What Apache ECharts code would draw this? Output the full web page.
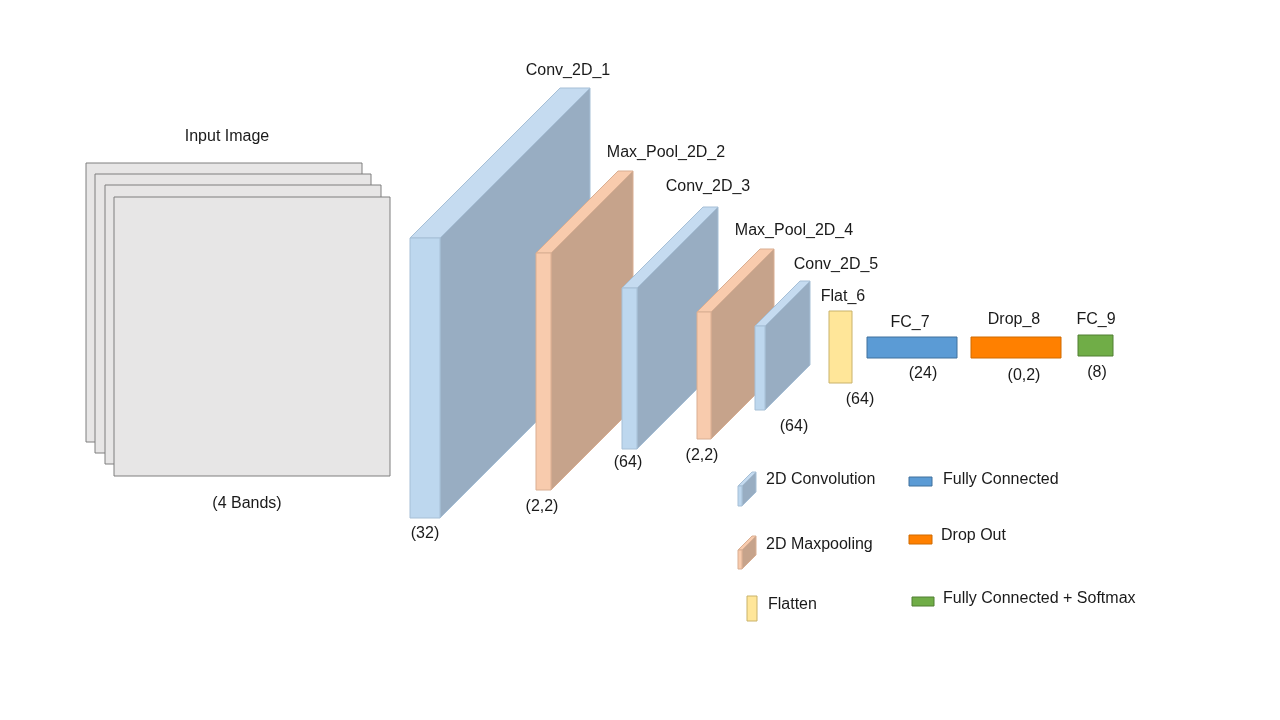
<!DOCTYPE html>
<html>
<head>
<meta charset="utf-8">
<script src="https://cdn.jsdelivr.net/npm/echarts@6/dist/echarts.min.js"></script>
<style>
  html, body { margin: 0; padding: 0; background: #fff; }
  #chart { width: 1280px; height: 720px; }
</style>
</head>
<body>
<div id="chart"></div>
<script>
// layer boxes: [x, yTop, width, height, depth, kind]
const inputSheets = [
  [86, 163, 276, 279, 0, 'input'],
  [95, 174, 276, 279, 0, 'input'],
  [105, 185, 276, 279, 0, 'input'],
  [114, 197, 276, 279, 0, 'input'],
];
const layerBoxes = [
  [410, 238, 30, 280, 150, 'conv'],
  [536, 253, 15, 237, 82, 'pool'],
  [622, 288, 15, 161, 81, 'conv'],
  [697, 312, 14, 127, 63, 'pool'],
  [755, 326, 10, 84, 45, 'conv'],
  [829, 311, 23, 72, 0, 'flat'],
  [867, 337, 90, 21, 0, 'fc'],
  [971, 337, 90, 21, 0, 'drop'],
  [1078, 335, 35, 21, 0, 'softmax'],
];
const legendBoxes = [
  [738, 486, 4, 20, 14, 'conv'],
  [738, 550, 4, 19, 14, 'pool'],
  [747, 596, 10, 25, 0, 'flat'],
  [909, 477, 23, 9, 0, 'fc'],
  [909, 535, 23, 9, 0, 'drop'],
  [912, 597, 22, 9, 0, 'softmax'],
];
// texts: [x, y, text]
const layerNames = [
  [227, 137, 'Input Image'], [568, 71, 'Conv_2D_1'], [666, 153, 'Max_Pool_2D_2'],
  [708, 187, 'Conv_2D_3'], [794, 231, 'Max_Pool_2D_4'], [836, 265, 'Conv_2D_5'],
  [843, 297, 'Flat_6'], [910, 323, 'FC_7'], [1014, 320, 'Drop_8'], [1096, 320, 'FC_9'],
];
const layerSizes = [
  [247, 504, '(4 Bands)'], [425, 534, '(32)'], [542, 507, '(2,2)'], [628, 463, '(64)'],
  [702, 456, '(2,2)'], [794, 427, '(64)'], [860, 400, '(64)'], [923, 374, '(24)'],
  [1024, 376, '(0,2)'], [1097, 373, '(8)'],
];
const legendTexts = [
  [766, 480, '2D Convolution'], [766, 545, '2D Maxpooling'], [768, 605, 'Flatten'],
  [943, 480, 'Fully Connected'], [941, 536, 'Drop Out'], [943, 599, 'Fully Connected + Softmax'],
];

const palette = {
  input: { front: '#e7e6e6', stroke: '#7f7f7f' },
  conv: { front: '#bdd7ee', side: '#98adc2', top: '#c5dbf0', stroke: '#a6bfd6' },
  pool: { front: '#f8cbad', side: '#c6a38b', top: '#f8cbad', stroke: '#d9ae92' },
  flat: { front: '#ffe699', stroke: '#c9b26a' },
  fc: { front: '#5b9bd5', stroke: '#41719c' },
  drop: { front: '#ff8000', stroke: '#d06a00' },
  softmax: { front: '#70ad47', stroke: '#507e32' },
};

function renderBox(params, api) {
  const x = api.value(0), y = api.value(1), w = api.value(2), h = api.value(3), d = api.value(4);
  const c = palette[api.value(5)];
  const p = (a, b) => api.coord([a, b]);
  const children = [];
  if (d > 0) {
    children.push({
      type: 'polygon',
      shape: { points: [p(x + w, y), p(x + w + d, y - d), p(x + w + d, y + h - d), p(x + w, y + h)] },
      style: { fill: c.side, stroke: c.stroke, lineWidth: 1 },
    });
    children.push({
      type: 'polygon',
      shape: { points: [p(x, y), p(x + w, y), p(x + w + d, y - d), p(x + d, y - d)] },
      style: { fill: c.top, stroke: c.stroke, lineWidth: 1 },
    });
  }
  children.push({
    type: 'polygon',
    shape: { points: [p(x, y), p(x + w, y), p(x + w, y + h), p(x, y + h)] },
    style: { fill: c.front, stroke: c.stroke, lineWidth: 1 },
  });
  return { type: 'group', children };
}

function renderText(params, api) {
  const pt = api.coord([api.value(0), api.value(1)]);
  return {
    type: 'text',
    x: pt[0], y: pt[1],
    style: {
      text: api.value(2), fill: '#1a1a1a', align: 'center', verticalAlign: 'middle',
      font: '16px "Liberation Sans", "Noto Sans", sans-serif',
    },
  };
}

function renderLegendText(params, api) {
  const pt = api.coord([api.value(0), api.value(1)]);
  return {
    type: 'text',
    x: pt[0], y: pt[1],
    style: {
      text: api.value(2), fill: '#1a1a1a', align: 'left', verticalAlign: 'middle',
      font: '16px "Liberation Sans", "Noto Sans", sans-serif',
    },
  };
}

const chart = echarts.init(document.getElementById('chart'), null, { renderer: 'canvas' });
const dims = ['x', 'y', 'w', 'h', 'd', 'kind'];
chart.setOption({
  backgroundColor: '#fff',
  animation: false,
  grid: { left: 0, right: 0, top: 0, bottom: 0 },
  xAxis: { type: 'value', min: 0, max: 1280, show: false },
  yAxis: { type: 'value', min: 0, max: 720, inverse: true, show: false },
  series: [
    { type: 'custom', renderItem: renderBox, dimensions: dims, data: inputSheets },
    { type: 'custom', renderItem: renderBox, dimensions: dims, data: layerBoxes },
    { type: 'custom', renderItem: renderBox, dimensions: dims, data: legendBoxes },
    { type: 'custom', renderItem: renderText, data: layerNames.concat(layerSizes) },
    { type: 'custom', renderItem: renderLegendText, data: legendTexts },
  ],
});
</script>
</body>
</html>
